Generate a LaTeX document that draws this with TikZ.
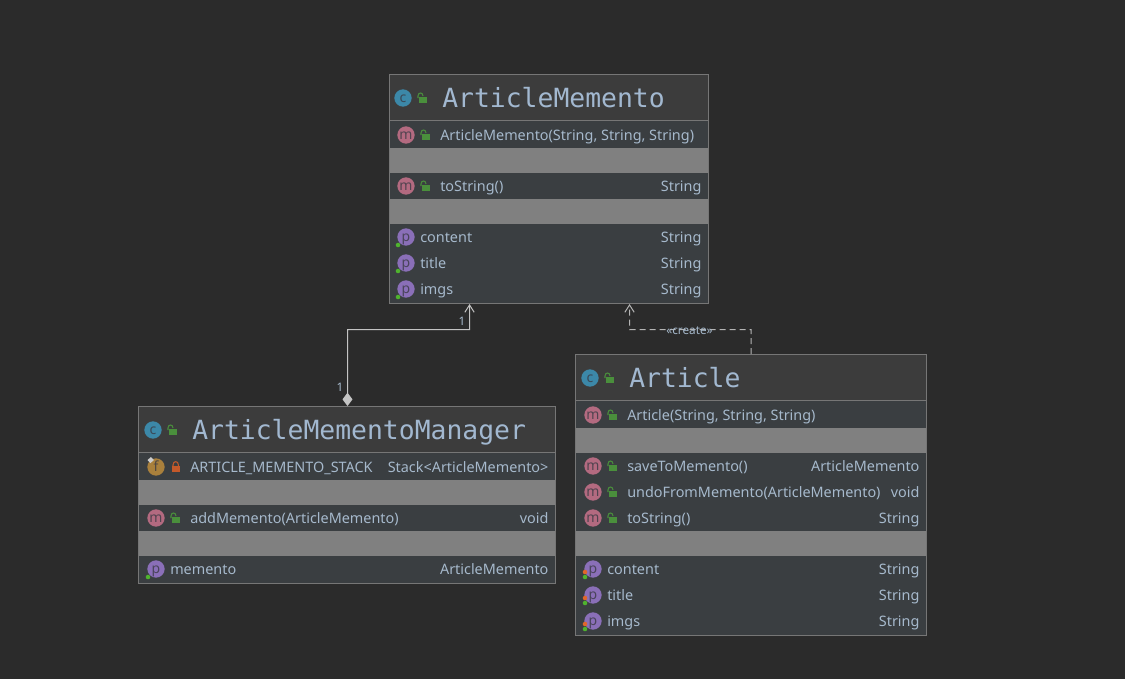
\documentclass[tikz,border=0pt]{standalone}
\usepackage{fontspec}
\setmainfont{Noto Sans}
\newfontfamily\monottl{DejaVu Sans Mono}
\usetikzlibrary{arrows.meta,fit}
\definecolor{bgc}{HTML}{2B2B2B}
\definecolor{ttlc}{HTML}{3C3C3C}
\definecolor{rowc}{HTML}{3A3E41}
\definecolor{grayc}{HTML}{808080}
\definecolor{edgec}{HTML}{767676}
\definecolor{txtc}{HTML}{A6B9CC}
\definecolor{ttltxt}{HTML}{A2B8D0}
\definecolor{lnc}{HTML}{C4C4C4}
\definecolor{dashc}{HTML}{B4B4B4}
\definecolor{cic}{HTML}{3C88A8}
\definecolor{mic}{HTML}{B36A80}
\definecolor{pic}{HTML}{8A6FB8}
\definecolor{fic}{HTML}{A9803C}
\definecolor{icl}{HTML}{3A3A44}
\definecolor{lockg}{HTML}{4A8F3C}
\definecolor{lockr}{HTML}{C4592A}
\definecolor{dotg}{HTML}{4FB32E}
\definecolor{doto}{HTML}{E0662A}
\newcounter{nn}
\tikzset{
  frame/.style={draw=edgec,line width=0.75pt,inner sep=0pt},
  rowtext/.style={text=txtc,inner sep=0pt,font=\fontsize{10.8pt}{12pt}\selectfont},
  titletext/.style={text=ttltxt,inner sep=0pt,anchor=base west,font=\monottl\fontsize{19.8pt}{22pt}\selectfont},
  smalltext/.style={text=txtc,inner sep=0pt,font=\fontsize{8.8pt}{10pt}\selectfont},
  connector/.style={draw=lnc,line width=0.75pt},
  icontext/.style={text=icl,text opacity=0.8,inner sep=0pt,anchor=base,font=\fontsize{10.5pt}{10pt}\selectfont}
}
\newcommand{\lbl}[3]{\stepcounter{nn}\node[rowtext,anchor=base west] (t\arabic{nn}) at (#1,#2) {#3};}
\newcommand{\typ}[3]{\stepcounter{nn}\node[rowtext,anchor=base east] (t\arabic{nn}) at (#1+0.7,#2) {#3};}
\newcommand{\ico}[4]{\fill[#3] (#1,#2) circle[radius=6.5pt];
  \stepcounter{nn}\node[icontext] (t\arabic{nn}) at (#1,#2+4.5) {#4};}
\newcommand{\lockopen}[2]{\fill[lockg] (#1-3,#2-1) rectangle (#1+5,#2+5);
  \draw[lockg,line width=0.8pt] (#1-4,#2) -- (#1-4,#2-2) .. controls (#1-4,#2-6) and (#1+1,#2-6) .. (#1+1,#2-2);}
\newcommand{\lockshut}[2]{\fill[lockr] (#1-3.5,#2-1) rectangle (#1+5,#2+5);
  \draw[lockr,line width=0.8pt] (#1-2,#2-1) -- (#1-2,#2-2) .. controls (#1-2,#2-6.5) and (#1+3.4,#2-6.5) .. (#1+3.4,#2-2) -- (#1+3.4,#2-1);}
\newcommand{\meth}[3]{\ico{#1}{#2}{mic}{m}\lockopen{#1+19}{#2}\lbl{#1+34}{#2+5}{#3}}
\newcommand{\prop}[3]{\ico{#1}{#2}{pic}{p}\fill[dotg] (#1-8,#2+8) circle[radius=1.7pt];\lbl{#1+14}{#2+5}{#3}}
\newcommand{\propb}[3]{\ico{#1}{#2}{pic}{p}\fill[doto] (#1-8,#2+3) circle[radius=1.7pt];\fill[dotg] (#1-8,#2+8) circle[radius=1.7pt];\lbl{#1+14}{#2+5}{#3}}
\begin{document}
\begin{tikzpicture}[x=0.75pt,y=-0.75pt]
\useasboundingbox (0,0) rectangle (1125,679);
\fill[bgc] (0,0) rectangle (1125,679);
% ---------- ArticleMemento
\fill[ttlc] (390,75) rectangle (708,120);
\fill[rowc] (390,120) rectangle (708,303);
\fill[grayc] (390,148) rectangle (708,173);
\fill[grayc] (390,199) rectangle (708,224);
\draw[edgec,line width=0.75pt] (390,120.5) -- (708,120.5);
\ico{403}{98}{cic}{c}\lockopen{422}{98}
\node[titletext] (amtitle) at (442,107) {ArticleMemento};
\meth{406}{135}{ArticleMemento(String, String, String)}
\meth{406}{186}{toString()}
\typ{701}{191}{String}
\prop{406}{237}{content}\typ{701}{242}{String}
\prop{406}{263}{title}\typ{701}{268}{String}
\prop{406}{289}{imgs}\typ{701}{294}{String}
\node[frame,fit={(389.5,74.5) (708.5,303.5)}] (amem) {};
% ---------- ArticleMementoManager
\fill[ttlc] (139,407) rectangle (555,452);
\fill[rowc] (139,452) rectangle (555,583);
\fill[grayc] (139,480) rectangle (555,505);
\fill[grayc] (139,531) rectangle (555,556);
\draw[edgec,line width=0.75pt] (139,452.5) -- (555,452.5);
\ico{153}{430}{cic}{c}\lockopen{172}{430}
\node[titletext] (mgtitle) at (192,439) {ArticleMementoManager};
\ico{156}{467}{fic}{f}\lockshut{175}{467}
\fill[black!20] (147.5,460) -- (151,457) -- (154,460) -- (150.5,463) -- cycle;
\lbl{190}{472}{ARTICLE\_MEMENTO\_STACK}
\typ{548}{472}{Stack<ArticleMemento>}
\meth{156}{518}{addMemento(ArticleMemento)}
\typ{548}{523}{void}
\prop{156}{569}{memento}\typ{548}{574}{ArticleMemento}
\node[frame,fit={(138.5,406.5) (555.5,583.5)}] (mgr) {};
% ---------- Article
\fill[ttlc] (576,355) rectangle (926,400);
\fill[rowc] (576,400) rectangle (926,635);
\fill[grayc] (576,428) rectangle (926,453);
\fill[grayc] (576,531) rectangle (926,556);
\draw[edgec,line width=0.75pt] (576,400.5) -- (926,400.5);
\ico{590}{378}{cic}{c}\lockopen{609}{378}
\node[titletext] (artitle) at (629,387) {Article};
\meth{593}{415}{Article(String, String, String)}
\meth{593}{466}{saveToMemento()}\typ{919}{471}{ArticleMemento}
\meth{593}{492}{undoFromMemento(ArticleMemento)}\typ{919}{497}{void}
\meth{593}{518}{toString()}\typ{919}{523}{String}
\propb{593}{569}{content}\typ{919}{574}{String}
\propb{593}{595}{title}\typ{919}{600}{String}
\propb{593}{621}{imgs}\typ{919}{626}{String}
\node[frame,fit={(575.5,354.5) (926.5,635.5)}] (art) {};
% ---------- connectors
\coordinate (a1) at ([xshift=-59.6pt]amem.south);
\coordinate (a2) at ([xshift=60.4pt]amem.south);
\coordinate (b1) at (469.5,329.5);
\coordinate (b2) at (629.5,329.5);
\draw[connector,{Diamond[length=10pt,width=7.5pt,fill=lnc]}-{Straight Barb[length=5.5pt,width=7pt]}] ([xshift=0.375pt]mgr.north) |- (b1) -- (a1);
\draw[connector,draw=dashc,dash pattern=on 4.5pt off 3pt,-{Straight Barb[length=5.5pt,width=7pt]}] (art.north) |- (b2) -- (a2);
\node[smalltext] (n1) at (462,321) {1};
\node[smalltext] (n2) at (340,387) {1};
\node[smalltext] (cr) at (689.5,331) {«create»};
\end{tikzpicture}
\end{document}
